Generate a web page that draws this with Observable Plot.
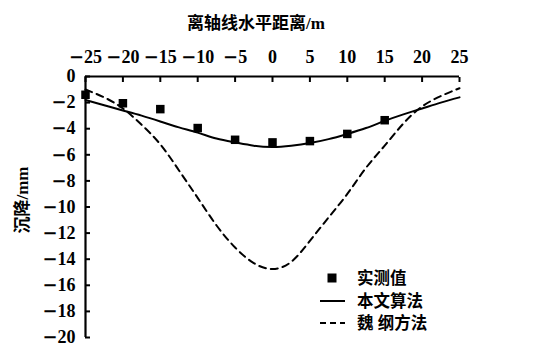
<!DOCTYPE html>
<html><head><meta charset="utf-8">
<script src="https://cdn.jsdelivr.net/npm/d3@7"></script>
<script src="https://cdn.jsdelivr.net/npm/@observablehq/plot@0.6"></script>
<style>
body{margin:0;background:#fff;}
#chart svg{font-family:"Liberation Serif","Noto Sans CJK SC",serif;}
</style>
</head><body><div id="chart"></div>
<script>
const xTitle = "离轴线水平距离/m";
const yTitle = "沉降/mm";
const seriesNames = ["实测值", "本文算法", "魏 纲方法"];
const xTicks = [-25, -20, -15, -10, -5, 0, 5, 10, 15, 20, 25];
const yTicks = [0, -2, -4, -6, -8, -10, -12, -14, -16, -18, -20];

const measuredX = [-25, -20, -15, -10, -5, 0, 5, 10, 15];
const measuredY = [-1.4, -2.05, -2.5, -3.95, -4.85, -5.05, -4.95, -4.4, -3.35];

const curveX = [-25, -22.5, -20, -17.5, -15, -12.5, -10, -7.5, -5, -2.5, 0, 2.5, 5, 7.5, 10, 12.5, 15, 17.5, 20, 22.5, 25];
const proposedY = [-1.8, -2.2, -2.6, -3.0, -3.45, -3.9, -4.3, -4.75, -5.05, -5.3, -5.4, -5.3, -5.1, -4.8, -4.4, -3.95, -3.4, -2.9, -2.45, -2.0, -1.6];
const weiGangY = [-1.0, -1.6, -2.45, -3.7, -5.2, -7.2, -9.3, -11.4, -13.1, -14.3, -14.75, -14.2, -12.6, -10.8, -9.0, -7.0, -5.3, -3.6, -2.3, -1.5, -0.9];

const measured = measuredX.map((x, i) => ({x, y: measuredY[i]}));
const proposed = curveX.map((x, i) => ({x, y: proposedY[i]}));
const weiGang = curveX.map((x, i) => ({x, y: weiGangY[i]}));

const fontFam = '"Liberation Serif","Noto Sans CJK SC",serif';
const fmt = d => d < 0 ? "\u2212" + Math.abs(d) : String(d);

const chart = Plot.plot({
  width: 550, height: 356,
  marginLeft: 85, marginRight: 91, marginTop: 76, marginBottom: 19,
  style: {fontFamily: fontFam, fontSize: "18px", fontWeight: "bold", color: "#000", background: "#fff", overflow: "visible"},
  x: {domain: [-25, 25]},
  y: {domain: [-20, 0]},
  marks: [
    Plot.axisX(xTicks, {anchor: "top", tickSize: -5, tickPadding: 19, label: null, strokeWidth: 2, tickFormat: fmt, fontSize: 18}),
    Plot.axisY(yTicks, {anchor: "left", tickSize: -5, tickPadding: 15, label: null, strokeWidth: 2, tickFormat: fmt, fontSize: 18}),
    Plot.ruleY([0], {strokeWidth: 2.2}),
    Plot.ruleX([-25], {strokeWidth: 2.2}),
    Plot.line(proposed, {x: "x", y: "y", curve: "natural", stroke: "#000", strokeWidth: 2}),
    Plot.line(weiGang, {x: "x", y: "y", curve: "natural", stroke: "#000", strokeWidth: 2, strokeDasharray: "7,5"}),
    Plot.dot(measured, {x: "x", y: "y", symbol: "square", r: 4.8, fill: "#000", stroke: null})
  ]
});
document.getElementById("chart").appendChild(chart);

const svg = d3.select(chart);
// widen the minus sign in tick labels, as in the reference typography
svg.selectAll("g[aria-label$='tick label'] text").each(function() {
  const t = this.textContent;
  if (t.startsWith("\u2212")) {
    const el = d3.select(this);
    el.text(null);
    el.append("tspan").attr("font-family", "DejaVu Serif").text("\u2212");
    el.append("tspan").text(t.slice(1));
  }
});
// titles
svg.append("text").attr("x", 256).attr("y", 23).attr("dy", "0.35em")
  .attr("text-anchor", "middle").attr("font-family", fontFam).attr("font-size", 17).attr("font-weight", "bold").attr("fill", "#000").text(xTitle);
svg.append("text").attr("transform", "translate(22,200) rotate(-90)").attr("dy", "0.35em")
  .attr("text-anchor", "middle").attr("font-family", fontFam).attr("font-size", 17).attr("font-weight", "bold").attr("fill", "#000").text(yTitle);

// legend
const lg = svg.append("g").attr("font-family", fontFam).attr("font-size", 16.5).attr("font-weight", "bold");
const rowsY = [278, 301, 323];
lg.append("rect").attr("x", 327.5).attr("y", rowsY[0] - 4.5).attr("width", 9).attr("height", 9).attr("fill", "#000");
lg.append("line").attr("x1", 320).attr("x2", 345).attr("y1", rowsY[1]).attr("y2", rowsY[1]).attr("stroke", "#000").attr("stroke-width", 2);
lg.append("line").attr("x1", 320).attr("x2", 345).attr("y1", rowsY[2]).attr("y2", rowsY[2]).attr("stroke", "#000").attr("stroke-width", 2).attr("stroke-dasharray", "6,4");
seriesNames.forEach((name, i) => {
  lg.append("text").attr("x", 357).attr("y", rowsY[i]).attr("dy", "0.35em").attr("text-anchor", "start").attr("fill", "#000").text(name);
});
</script>
</body></html>
